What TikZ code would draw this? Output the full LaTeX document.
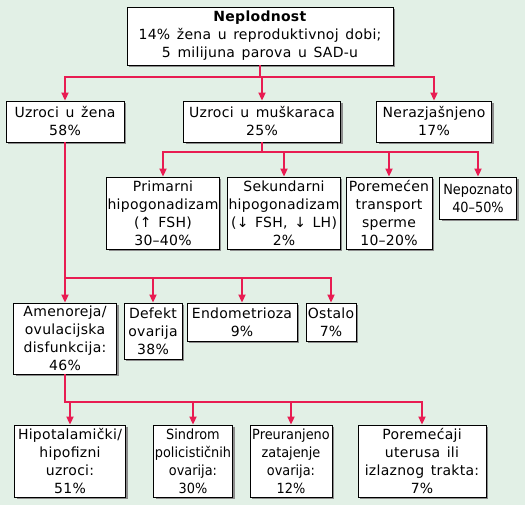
\documentclass[tikz,border=0pt]{standalone}
\usepackage{fontspec}
\setmainfont[LetterSpace=2,WordSpace=1.4]{DejaVu Sans}
\newfontfamily\narrowfont[FakeStretch=0.92]{DejaVu Sans}
\usetikzlibrary{arrows.meta,positioning,shadows}
\definecolor{bgcol}{RGB}{226,240,230}
\definecolor{linkcol}{RGB}{232,28,82}
\tikzset{
  box/.style={draw=black, line width=0.9pt, fill=white, align=center, inner sep=1pt,
    font=\fontsize{14}{18}\selectfont,
    drop shadow={shadow xshift=2pt, shadow yshift=-2pt, fill=black!45, opacity=1}},
  narrowbox/.style={box, font=\narrowfont\fontsize{14}{18}\selectfont},
  link/.style={linkcol, line width=2pt, -{Triangle[length=8pt,width=7pt]}},
}

\begin{document}
\begin{tikzpicture}[x=1pt,y=-1pt]
    % Background
    \fill[bgcol] (0,0) rectangle (525,505);
    \useasboundingbox (0,0) rectangle (525,505);
    % Top
    \node[box, minimum width=266pt, minimum height=58pt] (root) at (260,36)
      {\textbf{Neplodnost}\\14\% žena u reproduktivnoj dobi;\\5 milijuna parova u SAD-u};
    % Causes
    \node[box, minimum width=118pt, minimum height=41pt] (zena) at (65,121.5) {Uzroci u žena\\58\%};
    \node[box, minimum width=157pt, minimum height=41pt] (musk) at (262,121.5) {Uzroci u muškaraca\\25\%};
    \node[box, minimum width=115pt, minimum height=41pt] (nerazj) at (434,121.5) {Nerazjašnjeno\\17\%};
    % Male causes
    \node[box, minimum width=112pt, minimum height=72pt] (prim) at (163,213)
      {Primarni\\hipogonadizam\\(↑ FSH)\\30–40\%};
    \node[box, minimum width=112pt, minimum height=72pt] (sek) at (284,213)
      {Sekundarni\\hipogonadizam\\(↓ FSH, ↓ LH)\\2\%};
    \node[box, minimum width=86pt, minimum height=72pt] (transp) at (389,213)
      {Poremećen\\transport\\sperme\\10–20\%};
    \node[narrowbox, minimum width=77pt, minimum height=42pt] (nepoz) at (478,198)
      {Nepoznato\\40–50\%};
    % Female causes
    \node[box, minimum width=103pt, minimum height=71pt] (amen) at (65,338.5)
      {Amenoreja/\\ovulacijska\\disfunkcija:\\46\%};
    \node[box, minimum width=58pt, minimum height=56pt] (defekt) at (153,331) {Defekt\\ovarija\\38\%};
    \node[box, minimum width=110pt, minimum height=38pt] (endo) at (242,322) {Endometrioza\\9\%};
    \node[box, minimum width=50pt, minimum height=38pt] (ostalo) at (331,322) {Ostalo\\7\%};
    % Amenorrhoea causes
    \node[box, minimum width=111pt, minimum height=72pt] (hipot) at (70,461)
      {Hipotalamički/\\hipofizni\\uzroci:\\51\%};
    \node[narrowbox, minimum width=79pt, minimum height=72pt] (pcos) at (193,461)
      {Sindrom\\policističnih\\ovarija:\\30\%};
    \node[narrowbox, minimum width=82pt, minimum height=72pt] (preur) at (291,461)
      {Preuranjeno\\zatajenje\\ovarija:\\12\%};
    \node[box, minimum width=128pt, minimum height=72pt] (uter) at (422,461)
      {Poremećaji\\uterusa ili\\izlaznog trakta:\\7\%};
    % Connectors
    \foreach \n in {zena,musk,nerazj}
      \draw[link] (root.south) -- ++(0,12) -| (\n.north);
    \foreach \n in {prim,sek,transp,nepoz}
      \draw[link] (musk.south) -- ++(0,10) -| (\n.north);
    \foreach \n in {amen,defekt,endo,ostalo}
      \draw[link] (zena.south) -- ++(0,136) -| (\n.north);
    \foreach \n in {hipot,pcos,preur,uter}
      \draw[link] (amen.south) -- ++(0,28) -| (\n.north);
\end{tikzpicture}
\end{document}
